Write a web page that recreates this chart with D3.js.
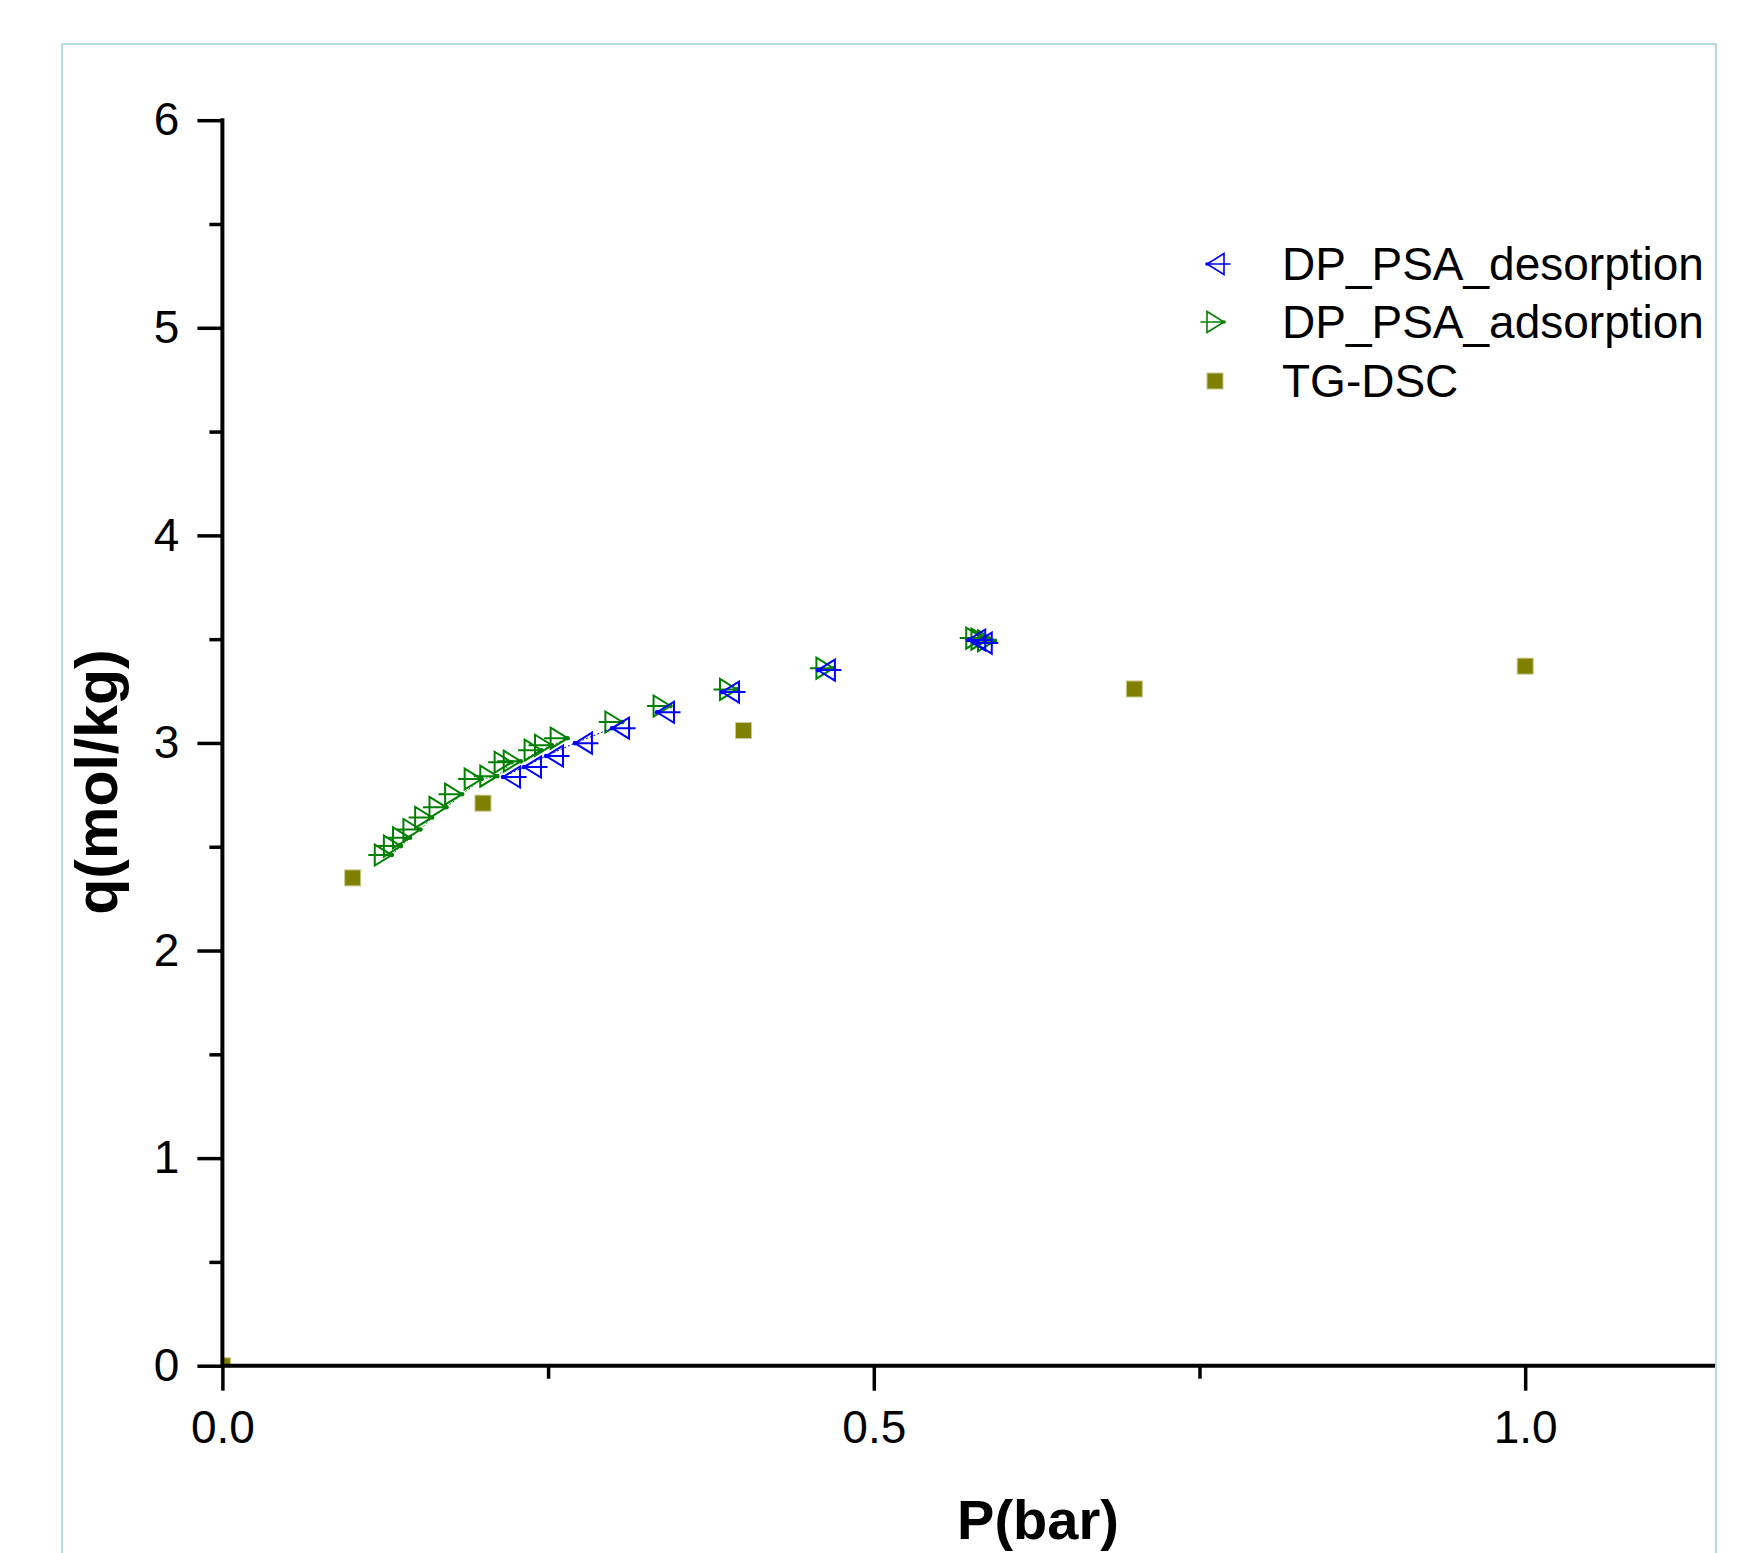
<!DOCTYPE html>
<html>
<head>
<meta charset="utf-8">
<script src="https://cdn.jsdelivr.net/npm/d3@7"></script>
<style>
  body { margin: 0; background: #fff; }
  svg { display: block; font-family: "Liberation Sans", Arial, sans-serif; }
</style>
</head>
<body>
<div class="chart"></div>
<script>
// series values (P in bar, q in mol/kg)
const desP = [0.2154, 0.2315, 0.2484, 0.2706, 0.2991, 0.3336, 0.3835, 0.4571, 0.5725, 0.5775];
const desQ = [2.836, 2.884, 2.937, 2.999, 3.071, 3.148, 3.245, 3.351, 3.496, 3.481];

const adsP = [0.130, 0.137, 0.144, 0.152, 0.161, 0.172, 0.184, 0.199, 0.211, 0.222, 0.229,
              0.245, 0.253, 0.265, 0.307, 0.344, 0.395, 0.469, 0.584, 0.588, 0.593];
const adsQ = [2.460, 2.503, 2.543, 2.583, 2.641, 2.690, 2.753, 2.826, 2.840, 2.907, 2.912,
              2.965, 2.989, 3.023, 3.101, 3.178, 3.258, 3.360, 3.505, 3.500, 3.492];

const tgP = [0, 0.1, 0.2, 0.4, 0.7, 1.0];
const tgQ = [0, 2.35, 2.71, 3.06, 3.26, 3.37];

const xTicks = [0, 0.5, 1.0];
const yTicks = [0, 1, 2, 3, 4, 5, 6];
const seriesNames = ['DP_PSA_desorption', 'DP_PSA_adsorption', 'TG-DSC'];

const W = 1761, H = 1553;
const x0 = 222.4, x1 = 1715, yTop = 120.2, yBot = 1365.7;

const xScale = d3.scaleLinear().domain([0, 1.1457]).range([x0, x1]);
const yScale = d3.scaleLinear().domain([0, 6]).range([yBot, yTop]);

const svg = d3.select('.chart').append('svg')
    .attr('width', W).attr('height', H);

svg.append('rect').attr('width', W).attr('height', H).attr('fill', '#fff');

// light frame around the graph page
svg.append('rect')
    .attr('x', 62).attr('y', 44)
    .attr('width', 1654).attr('height', 1600)
    .attr('fill', 'none').attr('stroke', '#b4dde3').attr('stroke-width', 2);

svg.append('clipPath').attr('id', 'plot')
    .append('rect').attr('x', x0).attr('y', yTop - 40)
    .attr('width', x1 - x0 + 20).attr('height', yBot - yTop + 40);

const plot = svg.append('g').attr('clip-path', 'url(#plot)');

const ads = adsP.map((p, i) => ({p: p, q: adsQ[i]}));
const des = desP.map((p, i) => ({p: p, q: desQ[i]}));
const tg = tgP.map((p, i) => ({p: p, q: tgQ[i]}));

// triangle markers with a cross, tip sits on the point
function triPath(dir) {
    const w = 17, h = 10.5, e = 6.5;
    if (dir > 0) {
        return `M${-w},${-h}L0,0L${-w},${h}Z M${-w - e},0L0,0`;
    }
    return `M${w},${-h}L0,0L${w},${h}Z M0,0L${w + e},0`;
}

function drawTri(data, color, dir) {
    // thin connector only between close neighbours (gaps hide it otherwise)
    const segs = d3.pairs(data).filter(([a, b]) =>
        Math.hypot(xScale(b.p) - xScale(a.p), yScale(b.q) - yScale(a.q)) < 45);
    plot.append('g').selectAll('line')
        .data(segs)
        .enter()
        .append('line')
        .attr('x1', d => xScale(d[0].p)).attr('y1', d => yScale(d[0].q))
        .attr('x2', d => xScale(d[1].p)).attr('y2', d => yScale(d[1].q))
        .attr('stroke', color)
        .attr('stroke-width', 1)
        .attr('stroke-dasharray', '2,2');
    const g = plot.append('g').selectAll('g')
        .data(data)
        .enter()
        .append('g')
        .attr('transform', d => `translate(${xScale(d.p)},${yScale(d.q)})`);
    g.append('path')
        .attr('d', triPath(dir))
        .attr('fill', 'none')
        .attr('stroke', color)
        .attr('stroke-width', 2);
    g.append('circle').attr('r', 2.3).attr('fill', color);
}

drawTri(ads, '#008000', 1);
drawTri(des, '#0000ff', -1);

plot.selectAll('rect.tg')
    .data(tg)
    .enter()
    .append('rect')
    .attr('class', 'tg')
    .attr('x', d => xScale(d.p) - 8)
    .attr('y', d => yScale(d.q) - 8)
    .attr('width', 16).attr('height', 16)
    .attr('fill', '#808000')
    .attr('stroke', '#c8c890')
    .attr('stroke-width', 1);

// axes
const yAxis = d3.axisLeft(yScale).tickValues(yTicks).tickSize(25).tickPadding(18)
    .tickSizeOuter(0).tickFormat(d3.format('d'));
const yMinor = d3.axisLeft(yScale).tickValues(d3.range(0.5, 6, 1)).tickSize(13)
    .tickSizeOuter(0).tickFormat('');
const xAxis = d3.axisBottom(xScale).tickValues(xTicks).tickSize(25).tickPadding(20)
    .tickSizeOuter(0).tickFormat(d3.format('.1f'));
const xMinor = d3.axisBottom(xScale).tickValues([0.25, 0.75]).tickSize(13)
    .tickSizeOuter(0).tickFormat('');

function styleAxis(g) {
    g.select('.domain').remove();
    g.selectAll('line').attr('stroke', '#000').attr('stroke-width', 3.5);
    g.selectAll('text').attr('font-size', 46).attr('fill', '#000')
        .attr('font-family', '"Liberation Sans", Arial, sans-serif');
}

svg.append('g').attr('transform', `translate(${x0},0)`).call(yMinor).call(styleAxis);
svg.append('g').attr('transform', `translate(${x0},0)`).call(yAxis).call(styleAxis);
svg.append('g').attr('transform', `translate(0,${yBot})`).call(xMinor).call(styleAxis);
svg.append('g').attr('transform', `translate(0,${yBot})`).call(xAxis).call(styleAxis);

svg.append('line')
    .attr('x1', x0).attr('x2', x0).attr('y1', yTop - 2).attr('y2', yBot + 2)
    .attr('stroke', '#000').attr('stroke-width', 4);
svg.append('line')
    .attr('x1', x0).attr('x2', x1).attr('y1', yBot).attr('y2', yBot)
    .attr('stroke', '#000').attr('stroke-width', 4);

// axis titles
svg.append('text')
    .attr('x', 1038).attr('y', 1539)
    .attr('text-anchor', 'middle')
    .attr('font-size', 56).attr('font-weight', 'bold')
    .text('P(bar)');

svg.append('text')
    .attr('transform', 'translate(117,782) rotate(-90)')
    .attr('text-anchor', 'middle')
    .attr('font-size', 59).attr('font-weight', 'bold')
    .text('q(mol/kg)');

// legend
const legendY = [264, 322, 381];
const legend = svg.selectAll('.legend')
    .data(seriesNames)
    .enter()
    .append('g')
    .attr('class', 'legend')
    .attr('transform', (d, i) => `translate(1215,${legendY[i]})`);

legend.each(function(d, i) {
    const g = d3.select(this);
    if (i === 0) {
        g.append('path').attr('transform', 'translate(-8,0)').attr('d', triPath(-1))
            .attr('fill', 'none').attr('stroke', '#0000ff').attr('stroke-width', 1.6);
        g.append('circle').attr('cx', -8).attr('r', 1.8).attr('fill', '#0000ff');
    } else if (i === 1) {
        g.append('path').attr('transform', 'translate(9,0)').attr('d', triPath(1))
            .attr('fill', 'none').attr('stroke', '#008000').attr('stroke-width', 1.6);
        g.append('circle').attr('cx', 9).attr('r', 1.8).attr('fill', '#008000');
    } else {
        g.append('rect').attr('x', -8).attr('y', -8).attr('width', 16).attr('height', 16)
            .attr('fill', '#808000').attr('stroke', '#c8c890').attr('stroke-width', 1);
    }
    g.append('text')
        .attr('x', 67).attr('y', 0).attr('dy', '0.35em')
        .attr('font-size', 46)
        .text(d);
});
</script>
</body>
</html>
